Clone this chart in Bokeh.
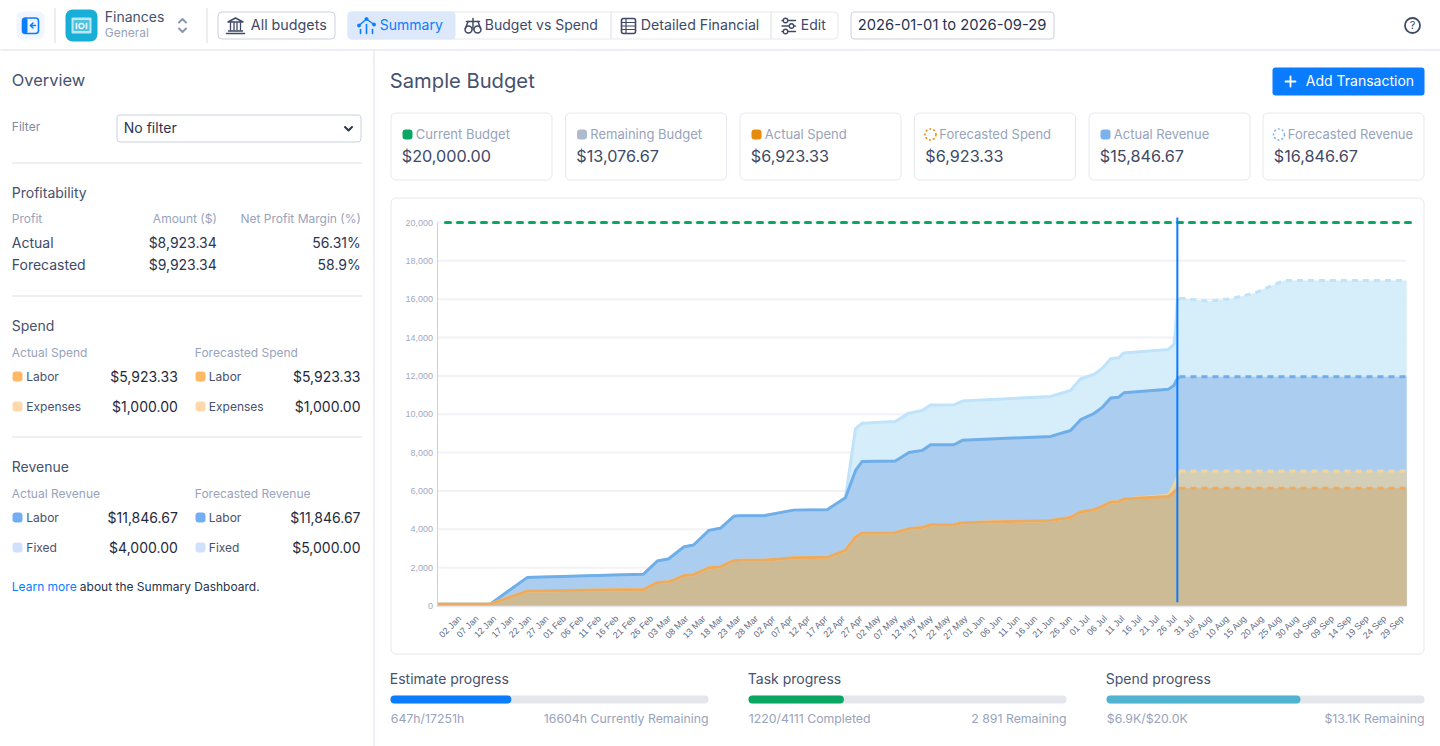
from datetime import datetime, timezone
from math import pi
from bokeh.core.properties import value
from bokeh.embed import file_html
from bokeh.resources import INLINE
from bokeh.plotting import figure
from bokeh.models import (ColumnDataSource, DatetimeAxis, DatetimeTickFormatter, FixedTicker,
                          LinearAxis, NumeralTickFormatter, Range1d)

# ------------------------------------------------------------------ data
tick_labels = ["02 Jan","07 Jan","12 Jan","17 Jan","22 Jan","27 Jan","01 Feb","06 Feb","11 Feb","16 Feb","21 Feb","26 Feb",
               "03 Mar","08 Mar","13 Mar","18 Mar","23 Mar","28 Mar","02 Apr","07 Apr","12 Apr","17 Apr","22 Apr","27 Apr",
               "02 May","07 May","12 May","17 May","22 May","27 May","01 Jun","06 Jun","11 Jun","16 Jun","21 Jun","26 Jun",
               "01 Jul","06 Jul","11 Jul","16 Jul","21 Jul","26 Jul","31 Jul","05 Aug","10 Aug","15 Aug","20 Aug","25 Aug",
               "30 Aug","04 Sep","09 Sep","14 Sep","19 Sep","24 Sep","29 Sep"]
value_ticks = [0, 2000, 4000, 6000, 8000, 10000, 12000, 14000, 16000, 18000, 20000]

# days since 2026-01-01
actual_days = [-5.5, 9.6, 20.3, 53.6, 57.6, 60.8, 65.2, 68.0, 72.4, 75.7,
               79.5, 81.4, 88.1, 96.7, 106.3, 111.5, 114.4, 116.3, 125.8, 129.7,
               133.5, 135.9, 142.6, 145.0, 170.3, 176.0, 178.9, 182.7, 185.1, 187.5,
               189.8, 191.3, 204.1, 205.6, 206.0, 206.6]
actual_revenue_labor = [85, 85, 1480, 1650, 2345, 2450, 3075, 3180, 3945, 4050,
                        4675, 4710, 4710, 5000, 5025, 5650, 7070, 7540, 7560, 8000,
                        8115, 8410, 8410, 8640, 8845, 9155, 9715, 10040, 10360, 10850,
                        10890, 11120, 11310, 11500, 11650, 11850]
actual_revenue_total = [85, 85, 1480, 1650, 2345, 2450, 3075, 3180, 3945, 4050,
                        4675, 4710, 4710, 5000, 5025, 5650, 9250, 9530, 9625, 10060,
                        10200, 10480, 10495, 10685, 10930, 11240, 11850, 12075, 12400, 12890,
                        12945, 13200, 13380, 13640, 14210, 15930]
actual_spend_labor = [85, 85, 780, 855, 1220, 1250, 1585, 1635, 2000, 2050,
                      2365, 2380, 2380, 2520, 2540, 2900, 3600, 3805, 3825, 4035,
                      4100, 4240, 4240, 4345, 4465, 4620, 4900, 5020, 5195, 5420,
                      5440, 5575, 5715, 5940, 6000, 6100]
actual_spend_total = [85, 85, 780, 855, 1220, 1250, 1585, 1635, 2000, 2050,
                      2365, 2380, 2380, 2520, 2540, 2900, 3600, 3805, 3825, 4035,
                      4100, 4240, 4240, 4345, 4465, 4620, 4900, 5020, 5195, 5420,
                      5440, 5575, 5770, 6290, 6450, 6700]
forecast_days = [207.2, 215.6, 221.8, 228.5, 233.8, 237.1, 272.3]
forecast_revenue_total = [16050, 15895, 16020, 16310, 16715, 16975, 16975]
forecast_revenue_labor = [11950, 11950, 11950, 11950, 11950, 11950, 11950]
forecast_spend_total = [7035, 7035, 7035, 7035, 7035, 7035, 7035]
forecast_spend_labor = [6135, 6135, 6135, 6135, 6135, 6135, 6135]
budget_days = [-3.1, 274.8]
budget_values = [20000, 20000]
today_day = [206.6, 206.6]
today_values = [190, 20260]

cards = ["Current Budget", "Remaining Budget", "Actual Spend", "Forecasted Spend", "Actual Revenue", "Forecasted Revenue"]
card_values = ["$20,000.00", "$13,076.67", "$6,923.33", "$6,923.33", "$15,846.67", "$16,846.67"]
progress_titles = ["Estimate progress", "Task progress", "Spend progress"]
progress_fractions = [0.38, 0.30, 0.61]
progress_left = ["647h/17251h", "1220/4111 Completed", "$6.9K/$20.0K"]
progress_right = ["16604h Currently Remaining", "2 891 Remaining", "$13.1K Remaining"]

# ------------------------------------------------------------------ scales
DAY = 86400000.0
BASE = datetime(2026, 1, 1, tzinfo=timezone.utc).timestamp() * 1000
def ms(days):
    return [BASE + d * DAY for d in days]

PXDAY, X0 = 3.49, 459.3       # pixel layout of the date axis
Y0, PXVAL = 605.5, 383.5 / 20000   # pixel layout of the value axis
day_at = lambda px: 1 + (px - X0) / PXDAY
val_at = lambda py: (Y0 - py) / PXVAL

W, H = 1440, 746
p = figure(width=W, height=H, output_backend="svg", toolbar_location=None,
           x_range=Range1d(BASE + day_at(0) * DAY, BASE + day_at(W) * DAY),
           y_range=Range1d(val_at(H), val_at(0)),
           x_axis_type=None, y_axis_type=None, min_border=0,
           outline_line_color=None, background_fill_color="white", border_fill_color="white")
p.grid.visible = False
p.extra_x_ranges["px"] = Range1d(0, W)
p.extra_y_ranges["px"] = Range1d(H, 0)
PX = dict(x_range_name="px", y_range_name="px")

INK, MUTED, HEAD, LINE, BLUE, GREEN = "#3E4A66", "#98A3BC", "#46526E", "#E6E8EE", "#0A7CFF", "#0AA764"

def box(l, t, r, b, fill=None, line=None, radius=0, width=1, alpha=1.0):
    p.quad(left=l, right=r, top=t, bottom=b, fill_color=fill, fill_alpha=alpha if fill else 0,
           line_color=line, line_width=width, border_radius=radius, **PX)

def stroke(xs, ys, color=INK, width=1.5):
    p.line(xs, ys, line_color=color, line_width=width, line_cap="round", line_join="round", **PX)

def ring(x, y, d, color=INK, width=1.5, dash="solid", fill=None):
    p.scatter([x], [y], marker="circle", size=d, fill_color=fill, fill_alpha=1 if fill else 0,
              line_color=color, line_width=width, line_dash=value(dash), **PX)

T = dict(x=[], y=[], text=[], size=[], color=[], align=[])
def label(x, y, s, size, color, align="left"):
    for k, v in zip(("x", "y", "text", "size", "color", "align"), (x - 0.7, y - 1.5, s, f"{size}px", color, align)):
        T[k].append(v)

# ------------------------------------------------------------------ top bar
box(16, 11, 44, 39, fill="#F1F6FE", radius=6)
box(22, 17.5, 38, 33, line=BLUE, radius=3, width=1.6)
box(22, 17.5, 27, 33, fill=BLUE, radius=2)
stroke([35, 30], [25, 25], BLUE); stroke([32.5, 30, 32.5], [22.5, 25, 27.5], BLUE)
stroke([54.5, 54.5], [8, 42], LINE)
box(65, 9, 97, 41, fill="#17AFD6", radius=7)
box(71, 17, 91, 33, fill="#D8F0F8", radius=1, alpha=0.85)
box(73, 19.5, 89, 30.5, fill="#17AFD6", radius=1, alpha=0.65)
stroke([76, 76], [23, 28], "#E8F7FB", 1.6); stroke([86, 86], [23, 28], "#E8F7FB", 1.6)
ring(81, 25.5, 5, "#E8F7FB", 1.4)
label(105, 17.5, "Finances", 14, HEAD); label(105, 33, "General", 12, MUTED)
stroke([178.5, 182, 185.5], [22, 18.5, 22], "#8D97AD", 2); stroke([178.5, 182, 185.5], [28, 31.5, 28], "#8D97AD", 2)
stroke([206.5, 206.5], [8, 42], LINE)

box(217.5, 11.5, 334.5, 38.5, fill="white", line="#CBD0DE", radius=4)
stroke([227.5, 235, 242.5, 227.5], [21.5, 17.5, 21.5, 21.5]); stroke([226, 244], [33, 33]); stroke([228, 242], [30.5, 30.5])
for cx in (230, 233.5, 236.5, 240):
    stroke([cx, cx], [22.5, 29.5], INK, 1.3)
label(251, 25.5, "All budgets", 14.3, INK)

box(347.5, 11.5, 837.5, 38.5, fill="white", line=LINE, radius=4)
box(347, 11, 455, 39, fill="#DDE9FB", radius=4)
stroke([358.5, 366, 373.5], [25, 18.5, 24], BLUE, 1.3)
for cx, top in ((360, 29), (366, 24), (372, 29)):
    stroke([cx, cx], [top, 33], BLUE, 1.6)
for cx, cy in ((358.5, 25), (366, 18.5), (373.5, 24)):
    ring(cx, cy, 3, BLUE, 1, fill=BLUE)
label(380, 25.5, "Summary", 14, BLUE)
ring(468, 29, 7, INK); ring(477, 29, 7, INK)
stroke([466, 479], [21, 21]); stroke([472.5, 472.5], [18, 29]); stroke([465, 467.5], [28, 21]); stroke([480, 477.5], [28, 21])
label(485, 25.5, "Budget vs Spend", 14, INK)
stroke([610.5, 610.5], [12, 38], LINE)
box(621, 18, 635, 33, line=INK, radius=2, width=1.6)
for cy in (22, 25.5, 29):
    stroke([621, 635], [cy, cy], INK, 1.2)
stroke([625.5, 625.5], [18, 33], INK, 1.2)
label(641, 25.5, "Detailed Financial", 14.2, INK)
stroke([770.5, 770.5], [12, 38], LINE)
for cy, cx in ((20, 785), (25.5, 791), (31, 785)):
    stroke([781.5, 795], [cy, cy], INK, 1.4); ring(cx, cy, 4.5, INK, 1.3, fill="white")
label(801, 25.5, "Edit", 14, INK)
box(850.5, 11.5, 1053.5, 38.5, fill="white", line="#CBD0DE", radius=3)
label(858, 25.5, "2026-01-01 to 2026-09-29", 14.75, "#27324E")
ring(1412, 25, 15, INK, 1.8)
label(1412.7, 25.5, "?", 11, INK, "center")
stroke([0, W], [49.5, 49.5], "#E8EAF0")
stroke([373.5, 373.5], [50, H], "#E8EAF0")

# ------------------------------------------------------------------ side panel
label(12, 81, "Overview", 16.4, HEAD)
label(12, 127.5, "Filter", 12, "#7F8AA3")
box(116.5, 114.5, 360.5, 141.5, fill="white", line="#CBD0DE", radius=3)
label(124, 128.5, "No filter", 14, "#2B3550")
stroke([344.5, 348, 351.5], [126.5, 130, 126.5], "#2B3550", 2)
for yy in (162.5, 295.5, 436.5):
    stroke([12, 361], [yy, yy], "#E8EAF0")
label(12, 193.5, "Profitability", 14, HEAD)
label(12, 219.5, "Profit", 12, MUTED); label(217, 219.5, "Amount ($)", 12, MUTED, "right")
label(361, 219.5, "Net Profit Margin (%)", 12, MUTED, "right")
for yy, a, b, c in ((243, "Actual", "$8,923.34", "56.31%"), (265, "Forecasted", "$9,923.34", "58.9%")):
    label(12, yy + .5, a, 14, INK); label(217, yy + .5, b, 14, "#2B3550", "right"); label(361, yy + .5, c, 14, "#2B3550", "right")

label(12, 326.5, "Spend", 14, HEAD)
label(12, 353.5, "Actual Spend", 12, MUTED); label(195, 353.5, "Forecasted Spend", 12, MUTED)
label(12, 467.5, "Revenue", 14, HEAD)
label(12, 494.5, "Actual Revenue", 12, MUTED); label(195, 494.5, "Forecasted Revenue", 12, MUTED)
rows = [(376, "Labor", "#FFB865", "$5,923.33", "$5,923.33"), (406, "Expenses", "#FFD9AC", "$1,000.00", "$1,000.00"),
        (517, "Labor", "#73AEF5", "$11,846.67", "$11,846.67"), (547, "Fixed", "#CFE1FB", "$4,000.00", "$5,000.00")]
for yy, name, col, v1, v2 in rows:
    box(12, yy - 5, 22, yy + 5, fill=col, radius=3)
    box(195, yy - 5, 205, yy + 5, fill=col, radius=3)
    label(26.5, yy + 1, name, 12, HEAD); label(209, yy + 1, name, 12, HEAD)
    label(178, yy + 1.5, v1, 14, "#1F2A40", "right"); label(360.7, yy + 1.5, v2, 14, "#1F2A40", "right")
label(12, 587, "Learn more", 12, BLUE)
label(80, 587, "about the Summary Dashboard.", 12, "#27324E")

# ------------------------------------------------------------------ main header and cards
label(390, 81.5, "Sample Budget", 20.2, HEAD)
box(1272, 67, 1424, 95, fill=BLUE, radius=3)
stroke([1285, 1295], [81, 81], "white", 1.8); stroke([1290, 1290], [76, 86], "white", 1.8)
label(1306, 81.5, "Add Transaction", 14, "white")

card_x = [390, 564.5, 739, 913.5, 1088, 1262]
swatch = [GREEN, "#B0BACD", "#E88A0C", "#E88A0C", "#7CB2EC", "#7CB2EC"]
for i, (cx, name, val) in enumerate(zip(card_x, cards, card_values)):
    box(cx + .5, 112.5, cx + 161.5, 179.5, fill="white", line=LINE, radius=5)
    if i in (3, 5):
        ring(cx + 16.5, 134, 11, swatch[i], 1.5, dash=[2, 2])
        label(cx + 26, 135, name, 13, MUTED)
    else:
        box(cx + 12, 129, cx + 22, 139, fill=swatch[i], radius=3)
        label(cx + 26, 135, name, 13, MUTED)
    label(cx + 12, 156.5, val, 16.2, INK)

box(390.5, 197.5, 1423.5, 653.5, fill="white", line=LINE, radius=5)

# ------------------------------------------------------------------ chart
tick_ms = [datetime.strptime(t + " 2026", "%d %b %Y").replace(tzinfo=timezone.utc).timestamp() * 1000 for t in tick_labels]
first, last = ms([actual_days[0]])[0], ms([forecast_days[-1]])[0]

p.segment(x0=[first] * 10, x1=[last] * 10, y0=value_ticks[1:], y1=value_ticks[1:], line_color="#F1F2F7", line_width=2)

all_days = ms(actual_days + forecast_days)
def area(values, color):
    p.varea(x=all_days, y1=[0] * len(all_days), y2=values, fill_color=color)
area(actual_revenue_total + forecast_revenue_total, "#D6EDFA")
area(actual_revenue_labor + forecast_revenue_labor, "#ABCEF0")
area(actual_spend_total + forecast_spend_total, "#D5CEB6")
area(actual_spend_labor + forecast_spend_labor, "#CDBB96")

def series(actual, forecast, color):
    p.line(ms(actual_days + forecast_days[:1]), actual + forecast[:1], line_color=color, line_width=3, line_join="round")
    p.line(ms(forecast_days), forecast, line_color=color, line_width=3, line_dash=[6, 5])
series(actual_revenue_total, forecast_revenue_total, "#BFE3FA")
series(actual_revenue_labor, forecast_revenue_labor, "#6FAEE8")
series(actual_spend_total, forecast_spend_total, "#F3D59B")
series(actual_spend_labor, forecast_spend_labor, "#EDAB5F")

p.line(ms(budget_days), budget_values, line_color=GREEN, line_width=3, line_dash=[5, 7], line_cap="round")
p.line(ms(today_day), today_values, line_color=BLUE, line_width=2)

xaxis = DatetimeAxis(ticker=FixedTicker(ticks=tick_ms), fixed_location=0, bounds=(first, last))
f = "%d %b"
xaxis.formatter = DatetimeTickFormatter(milliseconds=f, seconds=f, minsec=f, minutes=f, hourmin=f, hours=f,
                                        days=f, months=f, years=f, context=None)
xaxis.major_label_orientation = pi / 4
xaxis.major_label_standoff = 11
xaxis.major_label_text_font = "Liberation Sans"
xaxis.major_label_text_font_size = "9px"
xaxis.major_label_text_color = "#5E6A85"
xaxis.major_tick_line_color = None
xaxis.minor_tick_line_color = None
xaxis.major_tick_out = 0
xaxis.major_tick_in = 0
xaxis.axis_line_color = "#E4E6EC"
xaxis.axis_line_width = 1.5
p.add_layout(xaxis, "below")

yaxis = LinearAxis(ticker=FixedTicker(ticks=value_ticks), fixed_location=first, bounds=(0, 20000),
                   formatter=NumeralTickFormatter(format="0,0"))
yaxis.major_label_standoff = 4
yaxis.major_label_text_font = "Liberation Sans"
yaxis.major_label_text_font_size = "9px"
yaxis.major_label_text_color = "#A0AAC3"
yaxis.major_tick_line_color = None
yaxis.minor_tick_line_color = None
yaxis.major_tick_out = 0
yaxis.major_tick_in = 0
yaxis.axis_line_color = "#CBD2DF"
p.add_layout(yaxis, "left")

# ------------------------------------------------------------------ progress bars
bar_x = [390, 748, 1106]
bar_col = [BLUE, GREEN, "#50B4D0"]
for bx, title, frac, col, lft, rgt in zip(bar_x, progress_titles, progress_fractions, bar_col, progress_left, progress_right):
    label(bx, 679.5, title, 14, HEAD)
    box(bx, 695, bx + 318, 703, fill="#E4E6EC", radius=4)
    box(bx, 695, bx + 318 * frac, 703, fill=col, radius=4)
    label(bx + 1, 719, lft, 12.3, MUTED)
    label(bx + 318.7, 719, rgt, 12.3, MUTED, "right")

# ------------------------------------------------------------------ all texts
p.text(x="x", y="y", text="text", source=ColumnDataSource(T), text_font=value("Inter"), text_font_size="size",
       text_color="color", text_align="align", text_baseline="middle", **PX)

open("out.html", "w").write(file_html(p, INLINE))
